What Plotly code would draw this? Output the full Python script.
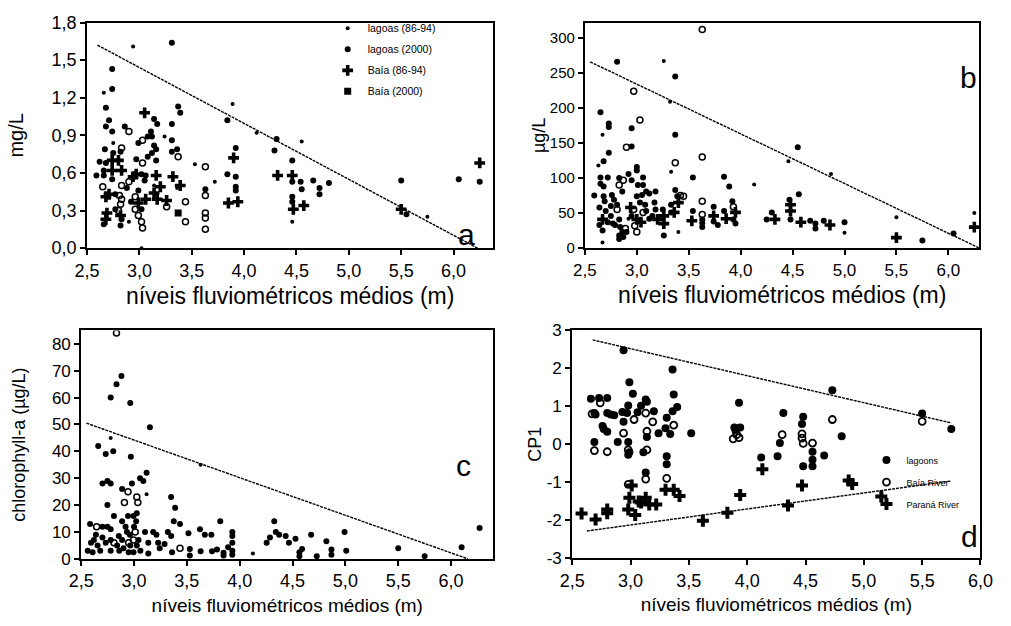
import plotly.graph_objects as go

# ---------------- Panel a (mg/L) ----------------
a_lag8694 = [(2.66,1.24),(2.75,0.84),(2.94,1.61),(3.89,1.15),(3.72,0.53),(4.12,0.92),(4.55,0.85),(4.46,0.21),
             (3.02,0.0),(5.75,0.25),(3.53,0.67),(3.24,0.89),(2.9,0.21),(3.14,0.50),(3.36,0.48)]
a_lag2000 = [(3.31,1.64),(2.74,1.43),(2.74,1.27),(2.68,1.12),(2.71,1.02),(2.68,0.97),(2.74,0.93),(2.86,0.97),
             (2.67,0.79),(2.75,0.76),(2.82,0.77),(2.62,0.69),(2.68,0.68),(2.59,0.58),(2.66,0.62),(2.66,0.58),
             (2.74,0.55),(2.77,0.43),(2.77,0.31),(2.66,0.19),(2.83,0.23),(2.82,0.18),(2.88,0.48),(2.92,0.37),
             (2.99,0.46),(3.02,0.31),(3.05,0.54),(3.02,0.59),(3.06,0.58),(2.97,0.71),(3.08,0.73),(2.99,0.84),
             (3.08,0.89),(3.14,1.03),(3.17,0.99),(3.11,0.93),(3.12,0.89),(3.14,0.82),(3.16,0.79),(3.16,0.70),
             (3.12,0.76),(3.31,0.99),(3.31,0.86),(3.31,0.77),(3.37,1.13),(3.39,1.08),(3.36,0.79),(3.63,0.47),
             (3.84,1.02),(3.84,0.59),(3.92,0.80),(3.92,0.57),(3.92,0.49),(3.92,0.46),(4.31,0.87),(4.29,0.78),
             (4.46,0.70),(4.46,0.53),(4.46,0.41),(4.46,0.37),(4.54,0.53),(4.55,0.47),(4.66,0.54),(4.72,0.48),
             (4.72,0.43),(4.81,0.52),(5.5,0.54),(5.55,0.27),(6.05,0.55),(6.25,0.53)]
a_open = [(2.9,0.93),(2.83,0.80),(2.65,0.49),(2.81,0.42),(2.83,0.39),(2.82,0.35),(2.8,0.30),(2.83,0.50),
          (2.9,0.53),(2.96,0.41),(2.96,0.31),(2.99,0.26),(3.02,0.21),(3.03,0.16),(3.03,0.68),(3.03,0.86),
          (3.37,0.73),(3.26,0.33),(3.44,0.37),(3.44,0.21),(3.63,0.65),(3.63,0.42),(3.63,0.28),(3.63,0.24),(3.63,0.15)]
a_baia8694 = [(2.74,0.70),(2.80,0.70),(2.74,0.62),(2.83,0.62),(2.71,0.43),(2.68,0.41),(2.69,0.28),(2.68,0.23),
              (2.82,0.26),(2.94,0.57),(2.97,0.59),(2.99,0.36),(3.06,0.39),(3.05,1.08),(3.16,0.58),(3.2,0.49),
              (3.14,0.44),(3.17,0.39),(3.26,0.38),(3.32,0.57),(3.39,0.50),(3.9,0.72),(3.85,0.36),(3.94,0.37),
              (4.32,0.58),(4.46,0.58),(4.47,0.31),(4.57,0.34),(5.5,0.31),(6.25,0.68)]
a_baia2000 = [(3.37,0.28)]
a_line_x = [2.6, 6.23]
a_line_y = [1.62, 0.0]

# ---------------- Panel b (µg/L) ----------------
b_filled = [(2.81,266),(2.65,194),(2.73,178),(2.73,173),(2.95,171),(3.37,162),(2.73,136),(2.95,145),(2.68,124),
            (3.0,116),(3.0,111),(2.65,101),(2.72,101),(2.65,92),(2.68,88),(2.83,100),(2.92,106),(2.95,97),
            (3.06,101),(3.01,90),(3.06,90),(3.54,101),(3.84,102),(3.89,88),(4.55,144),(4.56,77),(2.59,75),
            (2.68,74),(2.69,67),(2.76,76),(2.86,81),(2.78,69),(2.81,62),(2.64,58),(2.7,53),(2.75,46),(2.72,37),
            (2.64,33),(2.67,25),(2.75,60),(2.83,41),(2.79,33),(2.84,30),(2.83,18),(2.83,13),(2.86,23),(2.9,23),
            (2.87,16),(2.77,35),(2.95,46),(3.03,65),(3.0,74),(3.05,76),(3.09,81),(3.12,78),(3.08,62),(3.09,53),
            (3.12,42),(3.15,46),(3.18,55),(3.17,65),(3.18,81),(3.25,55),(3.26,18),(3.33,62),(3.33,51),(3.37,83),
            (3.39,74),(3.54,53),(3.63,41),(3.63,36),(3.63,30),(3.74,59),(3.74,38),(3.78,33),(3.84,53),(3.92,67),
            (3.93,41),(3.95,35),(4.25,41),(4.3,51),(4.47,69),(4.48,41),(4.67,39),(4.72,35),(4.72,28),(4.8,39),
            (5.0,37),(5.75,11),(6.05,21),(3.37,245)]
b_small = [(3.26,267),(3.32,209),(2.67,162),(2.63,118),(3.33,109),(4.13,91),(4.46,124),(4.87,106),(2.67,8),
           (3.4,23),(5.0,22),(5.5,44),(6.25,50),(2.92,42)]
b_open = [(3.63,312),(2.97,224),(3.03,183),(2.9,144),(3.37,122),(3.63,130),(2.83,90),(2.87,97),(2.81,55),
          (2.89,28),(2.97,55),(2.98,32),(3.0,23),(3.06,51),(3.42,75),(3.45,74),(3.63,67),(3.63,48),(3.93,59)]
b_cross = [(2.67,41),(2.94,58),(3.0,41),(3.04,37),(3.2,41),(3.26,46),(3.26,35),(3.4,65),(3.36,51),(3.53,39),
           (3.74,46),(3.86,42),(3.95,51),(4.33,41),(4.48,62),(4.48,53),(4.58,37),(4.86,33),(5.5,15),(6.25,30)]
b_line_x = [2.55, 6.3]
b_line_y = [266, 0]

# ---------------- Panel c (chlorophyll-a) ----------------
c_filled = [(2.881,68),(2.834,65),(2.779,60),(2.964,58),(3.15,49),(2.661,42),(2.732,39),(2.803,40),(2.97,38),
            (2.887,26),(2.701,28),(2.748,29),(2.779,28),(3.057,30),(3.119,32),(3.088,29),(2.98,28),(2.748,20),
            (2.81,16),(2.887,14),(2.943,16),(2.995,16),(3.026,17),(3.351,23),(3.389,19),(3.376,14),(3.435,13),
            (3.816,14),(4.327,14),(4.342,10),(4.992,10),(2.584,13),(2.701,12),(2.748,12),(2.779,11),(2.639,9),
            (2.593,6),(2.655,5),(2.608,2.5),(2.562,3),(2.701,8),(2.732,6),(2.779,7),(2.84,5),(2.779,3),
            (2.856,8.5),(2.887,7),(2.933,10),(2.964,5),(2.995,2.5),(3.026,5),(2.949,2.5),(3.042,7),(3.104,10),
            (3.135,6),(3.135,2),(3.181,10),(3.212,9),(3.228,6),(3.243,4),(3.289,5.5),(3.32,10),(3.351,8.5),
            (3.36,2.5),(3.515,9.5),(3.528,3.7),(3.528,1.3),(3.624,11),(3.63,2.8),(3.67,9),(3.732,9),(3.738,2.8),
            (3.785,3.5),(3.847,2.3),(3.847,1.3),(3.89,4.3),(3.93,10),(3.93,8.5),(3.93,6),(3.93,3),(3.93,1.5),
            (4.255,6),(4.286,8),(4.373,9),(4.435,8.5),(4.466,6),(4.528,7.5),(4.565,2.5),(4.565,1),(4.676,9),
            (4.729,1),(4.82,6.6),(4.868,3.5),(4.868,1.5),(5.008,3),(5.5,4),(5.75,1),(6.1,4.3),(6.27,11.5),
            (4.59,3.7),(2.62,7),(2.68,3),(2.86,3),(2.92,12),(3.0,12),(3.06,3),(2.9,4),(2.96,9),(3.02,14)]
c_small = [(2.779,45),(3.63,35),(3.119,24),(4.125,2)]
c_open = [(2.834,84),(2.943,25),(3.026,23),(3.036,21),(2.909,21),(2.646,12),(2.81,6),(2.949,6),(2.995,7),
          (3.011,10),(3.435,4)]
c_line_x = [2.55, 6.16]
c_line_y = [50.5, 0.0]

# ---------------- Panel d (CP1) ----------------
d_lagoons = [(2.94,2.48),(3.36,1.97),(2.99,1.63),(2.66,1.2),(2.73,1.22),(2.8,1.22),(3.02,1.33),(3.13,1.18),
             (3.14,1.12),(2.98,1.02),(3.09,1.01),(3.37,1.31),(3.4,0.98),(3.36,0.87),(2.69,0.82),(2.7,0.78),
             (2.8,0.82),(2.83,0.78),(2.86,0.76),(2.93,0.85),(2.97,0.82),(3.06,0.84),(3.2,0.87),(2.94,0.59),
             (3.31,0.70),(2.76,0.48),(2.77,0.40),(2.8,0.33),(3.3,0.42),(3.24,0.29),(3.14,0.19),(3.34,0.27),
             (2.69,0.06),(2.89,0.06),(2.98,0.06),(2.98,-0.28),(2.99,-0.21),(3.11,-0.21),(3.31,-0.32),(3.31,-0.53),
             (3.52,0.29),(3.93,1.09),(3.89,0.44),(3.94,0.44),(3.9,0.36),(3.13,-0.75),(4.31,0.82),(4.28,0.03),
             (4.12,-0.35),(4.26,-0.32),(4.48,0.72),(4.47,0.53),(4.48,-0.58),(4.56,-0.2),(4.56,-0.41),(4.56,-0.58),
             (4.66,-0.3),(4.73,1.42),(4.81,0.21),(5.5,0.81),(5.75,0.4)]
d_baia = [(2.74,1.09),(2.67,0.8),(3.03,0.65),(3.19,0.59),(3.13,0.82),(3.14,0.34),(2.94,0.29),(3.37,0.5),
          (2.69,-0.17),(2.8,-0.2),(2.98,-0.15),(3.14,-0.15),(3.13,-0.92),(3.31,-0.9),(2.98,-1.06),(3.91,0.25),
          (3.93,0.17),(3.88,0.14),(4.3,0.25),(4.47,0.27),(4.47,0.16),(4.48,0.02),(4.56,0.03),(4.73,0.65),(5.5,0.6)]
d_parana = [(2.58,-1.83),(2.7,-1.99),(2.8,-1.82),(2.8,-1.72),(3.01,-1.09),(2.99,-1.41),(2.98,-1.72),(3.04,-1.87),
            (3.07,-1.51),(3.13,-1.41),(3.09,-1.54),(3.16,-1.59),(3.22,-1.59),(3.3,-1.2),(3.37,-1.2),(3.42,-1.37),
            (3.62,-2.02),(3.83,-1.81),(3.94,-1.34),(4.13,-0.66),(4.35,-1.62),(4.47,-1.09),(4.87,-0.96),
            (4.9,-1.05),(5.15,-1.38)]
d_upper_x = [2.675, 5.75]
d_upper_y = [2.75, 0.56]
d_lower_x = [2.625, 5.75]
d_lower_y = [-2.29, -0.97]

# tick labels
a_yticks = [0, 0.3, 0.6, 0.9, 1.2, 1.5, 1.8]
b_yticks = [0, 50, 100, 150, 200, 250, 300]
c_yticks = [0, 10, 20, 30, 40, 50, 60, 70, 80]
d_yticks = [-3, -2, -1, 0, 1, 2, 3]
d_yticktext = ["-3", "-2", "-1", "0", "1", "2", "3"]

FONT = "Liberation Sans, Arial, sans-serif"
W, H = 1011, 626
fig = go.Figure()

def xs(p):
    return [v[0] for v in p]

def ys(p):
    return [v[1] for v in p]

def pts(pairs, xa, ya, symbol, size, name=None, legend=None, lw=0):
    fig.add_trace(go.Scatter(
        x=xs(pairs), y=ys(pairs), xaxis=xa, yaxis=ya, mode="markers", name=name or "",
        showlegend=name is not None, legend=legend, legendgroup=name,
        marker=dict(symbol=symbol, size=size, color="black", line=dict(color="black", width=lw))))

def line(x, y, xa, ya):
    fig.add_trace(go.Scatter(x=x, y=y, xaxis=xa, yaxis=ya, mode="lines", showlegend=False,
                             line=dict(color="black", width=1.4, dash="3px,1px")))

# panel a
line(a_line_x, a_line_y, "x", "y")
pts(a_open, "x", "y", "circle-open", 6, lw=1.5)
pts(a_lag8694, "x", "y", "circle", 4, "lagoas (86-94)", "legend")
pts(a_lag2000, "x", "y", "circle", 6, "lagoas (2000)", "legend")
pts(a_baia8694, "x", "y", "cross", 9, "Baía (86-94)", "legend")
pts(a_baia2000, "x", "y", "square", 7, "Baía (2000)", "legend")
# panel b
line(b_line_x, b_line_y, "x2", "y2")
pts(b_open, "x2", "y2", "circle-open", 6, lw=1.5)
pts(b_small, "x2", "y2", "circle", 4)
pts(b_filled, "x2", "y2", "circle", 6)
pts(b_cross, "x2", "y2", "cross", 9)
# panel c
line(c_line_x, c_line_y, "x3", "y3")
pts(c_open, "x3", "y3", "circle-open", 6, lw=1.5)
pts(c_small, "x3", "y3", "circle", 4)
pts(c_filled, "x3", "y3", "circle", 6)
# panel d
line(d_upper_x, d_upper_y, "x4", "y4")
line(d_lower_x, d_lower_y, "x4", "y4")
pts(d_lagoons, "x4", "y4", "circle", 8, "lagoons", "legend2")
pts(d_baia, "x4", "y4", "circle-open", 7, "Baía River", "legend2", lw=1.8)
pts(d_parana, "x4", "y4", "cross", 10, "Paraná River", "legend2")

def px_x(a, b):
    return [a / W, b / W]

def px_y(top, bottom):
    return [1 - bottom / H, 1 - top / H]

def axis_common(fs=18):
    return dict(showline=True, linecolor="black", linewidth=2, mirror=True, ticks="outside",
                ticklen=5, tickwidth=1.5, tickcolor="black", showgrid=False, zeroline=False,
                tickfont=dict(size=fs, color="black", family=FONT))

xtick = dict(tick0=2.5, dtick=0.5, tickformat=".1f")

fig.update_layout(
    width=W, height=H, margin=dict(l=0, r=0, t=0, b=0),
    paper_bgcolor="white", plot_bgcolor="white", separators=",.",
    font=dict(family=FONT, color="black"),
    xaxis=dict(domain=px_x(76, 493), range=[2.5, 6.38], anchor="y", **xtick, **axis_common(18),
               title=dict(text="níveis fluviométricos médios (m)", font=dict(size=23), standoff=8)),
    yaxis=dict(domain=px_y(13, 246), range=[0, 1.8], anchor="x", tickvals=a_yticks, tickformat=".1f",
               **axis_common(18), title=dict(text="mg/L", font=dict(size=20), standoff=22)),
    xaxis2=dict(domain=px_x(587, 992), range=[2.5, 6.3], anchor="y2", **xtick, **axis_common(17),
                title=dict(text="níveis fluviométricos médios (m)", font=dict(size=23), standoff=8)),
    yaxis2=dict(domain=px_y(13, 246), range=[0, 322], anchor="x2", tickvals=b_yticks, **axis_common(15),
                title=dict(text="µg/L", font=dict(size=18), standoff=0)),
    xaxis3=dict(domain=px_x(70, 493), range=[2.5, 6.4], anchor="y3", **xtick, **axis_common(18),
                title=dict(text="níveis fluviométricos médios (m)", font=dict(size=19), standoff=8)),
    yaxis3=dict(domain=px_y(331, 567), range=[0, 85], anchor="x3", tickvals=c_yticks, **axis_common(17),
                title=dict(text="chlorophyll-a (µg/L)", font=dict(size=18), standoff=22)),
    xaxis4=dict(domain=px_x(574, 993), range=[2.5, 6.0], anchor="y4", **xtick, **axis_common(18),
                title=dict(text="níveis fluviométricos médios (m)", font=dict(size=19), standoff=8)),
    yaxis4=dict(domain=px_y(331, 566), range=[-3, 3], anchor="x4", tickvals=d_yticks,
                ticktext=d_yticktext, **axis_common(17),
                title=dict(text="CP1", font=dict(size=18), standoff=0)),
    legend=dict(x=323 / W, y=1 - 4 / H, xanchor="left", yanchor="top", bgcolor="rgba(0,0,0,0)",
                font=dict(size=10.5, family=FONT), itemwidth=30, traceorder="grouped",
                tracegroupgap=2),
    legend2=dict(x=876 / W, y=1 - 450 / H, xanchor="left", yanchor="top", bgcolor="rgba(0,0,0,0)",
                 font=dict(size=9, family=FONT), itemwidth=30, traceorder="grouped",
                 tracegroupgap=3),
)

letters = [("a", "x", "y", 0.933, 0.06), ("b", "x2", "y2", 0.972, 0.755),
           ("c", "x3", "y3", 0.927, 0.41), ("d", "x4", "y4", 0.972, 0.095)]
for t, xa, ya, fx, fy in letters:
    fig.add_annotation(text=t, xref=xa + " domain", yref=ya + " domain", x=fx, y=fy,
                       xanchor="center", yanchor="middle",
                       showarrow=False, font=dict(size=30, family=FONT, color="black"))

fig.write_html("out.html", config={"displayModeBar": False},
               post_script="document.body.style.margin='0px';")
